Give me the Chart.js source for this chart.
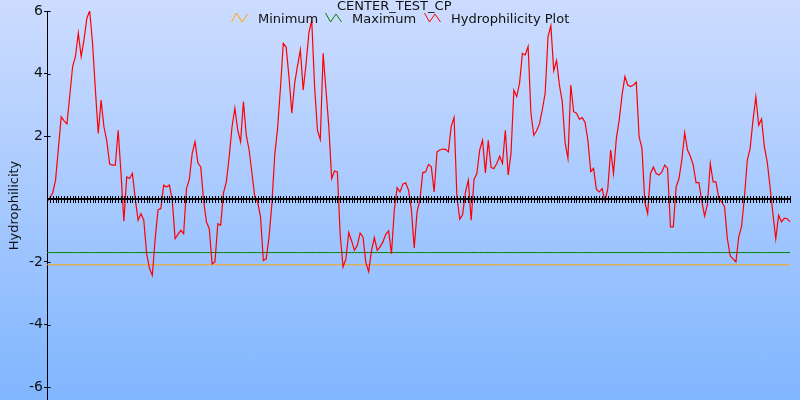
<!DOCTYPE html>
<html>
<head>
<meta charset="utf-8">
<script src="https://cdn.jsdelivr.net/npm/chart.js@4.4.0/dist/chart.umd.min.js"></script>
<style>
    body { margin: 0; }
    #wrap {
        position: relative;
        width: 800px;
        height: 400px;
        background: linear-gradient(#cddcff, #80b6ff);
        font-family: "DejaVu Sans", sans-serif;
        font-size: 13px;
        line-height: 15px;
        color: #111;
        overflow: hidden;
    }
    #wrap canvas { position: absolute; left: 0; top: 0; }
    .txt { position: absolute; white-space: nowrap; }
    .icon { position: absolute; }
</style>
</head>
<body>
<div id="wrap">
    <canvas id="hydroChart" width="800" height="400"></canvas>
    <div class="txt" id="chart-title" style="left:337px; top:-2px;">CENTER_TEST_CP</div>
    <svg class="icon" style="left:231px; top:12px;" width="18" height="11"><polyline points="0.5,10 5.5,1 11,10 16.5,2" fill="none" stroke="#ffa500" stroke-width="1"/></svg>
    <div class="txt" style="left:258px; top:11px;">Minimum</div>
    <svg class="icon" style="left:325px; top:12px;" width="18" height="11"><polyline points="0.5,1 5.5,10 11,2 16.5,10" fill="none" stroke="#008000" stroke-width="1"/></svg>
    <div class="txt" style="left:352px; top:11px;">Maximum</div>
    <svg class="icon" style="left:424px; top:12px;" width="18" height="11"><polyline points="0.5,1 5.5,10 11,2 16.5,10" fill="none" stroke="#ff0000" stroke-width="1"/></svg>
    <div class="txt" style="left:451px; top:11px;">Hydrophilicity&nbsp;Plot</div>
</div>
<script>
// 잔기별 친수성 값
const hydrophilicity = [
    -0.09, 0.05, 0.2, 0.6, 1.62, 2.63, 2.5, 2.4, 3.3, 4.23,
    4.55, 5.3, 4.55, 5.08, 5.77, 6.0, 4.97, 3.48, 2.1, 3.16,
    2.31, 1.86, 1.12, 1.09, 1.09, 2.2, 0.82, -0.7, 0.71, 0.66,
    0.82, 0.02, -0.67, -0.46, -0.67, -1.74, -2.2, -2.43, -1.26, -0.33,
    -0.3, 0.45, 0.39, 0.45,
    -0.03, -1.26, -1.12, -0.99, -1.1, 0.34, 0.63, 1.46, 1.83, 1.16,
    1.03, -0.03, -0.72, -0.94, -2.06, -2.0, -0.78, -0.83, 0.2, 0.55,
    1.35, 2.31, 2.9, 2.2, 1.83, 3.11, 2.04, 1.57, 0.82, 0.07,
    -0.09, -0.56, -1.95, -1.9, -1.2, -0.14, 1.41, 2.26, 3.54, 4.97,
    4.85, 3.9, 2.74,
    3.7, 4.25, 4.76, 3.48, 4.31, 5.31, 5.7, 3.59, 2.2, 1.9,
    4.65, 3.48, 2.31, 0.66, 0.9, 0.87, -1.15, -2.16, -1.9, -1.06,
    -1.33, -1.63, -1.47, -1.08, -1.2, -2.02, -2.31, -1.63, -1.22, -1.63,
    -1.52, -1.36, -1.12, -1.01, -1.74, -0.35, 0.37, 0.23, 0.48, 0.52,
    0.29, -0.33,
    -1.55, -0.4, -0.01, 0.85, 0.87, 1.11, 1.03, 0.23, 1.51, 1.57,
    1.6, 1.59, 1.51, 2.33, 2.6, 0.07, -0.64, -0.49, 0.23, 0.61,
    -0.67, 0.63, 0.82, 1.57, 1.88, 0.84, 1.88, 1.01, 0.98, 1.14,
    1.37, 1.14, 2.2, 0.77, 1.46, 3.48, 3.27, 3.7, 4.65, 4.6,
    4.87, 2.74, 2.04,
    2.18, 2.4, 2.86, 3.38, 5.19, 5.53, 4.1, 4.42, 3.64, 3.11,
    1.8, 1.3, 3.64, 2.79, 2.74, 2.55, 2.6, 2.45, 1.88, 0.88,
    0.98, 0.31, 0.23, 0.34, -0.05, 0.34, 1.57, 0.82, 1.94, 2.52,
    3.32, 3.91, 3.64, 3.59, 3.64, 3.73, 1.99, 1.62, -0.09, -0.46,
    0.82, 1.03, 0.82,
    0.77, 0.87, 1.09, 0.98, -0.88, -0.88, 0.39, 0.66, 1.25, 2.12,
    1.57, 1.37, 1.09, 0.53, 0.53, -0.05, -0.54, -0.16, 1.14, 0.55,
    0.55, 0.02, -0.09, -0.24, -1.26, -1.81, -1.9, -2.0, -1.2, -0.86,
    0.07, 1.25, 1.62, 2.52, 3.27, 2.36, 2.56, 1.67, 1.19, 0.39,
    -0.46, -1.26, -0.51, -0.72, -0.6, -0.62, -0.72
];
const positions = hydrophilicity.map((_, i) => i + 1);

const minimumValue = -2.09;
const maximumValue = -1.70;
const minimumLine = positions.map(() => minimumValue);
const maximumLine = positions.map(() => maximumValue);

const yTickValues = [-6, -4, -2, 2, 4, 6];

// x축(0 위치)과 y축 눈금을 십자 모양으로 그림
const crossAxes = {
    id: 'crossAxes',
    afterDatasetsDraw(chart) {
        const { ctx } = chart;
        const x = chart.scales.x;
        const y = chart.scales.y;
        const y0 = Math.round(y.getPixelForValue(0));
        ctx.save();
        ctx.strokeStyle = '#000';
        ctx.lineWidth = 2;
        ctx.beginPath();
        ctx.moveTo(x.getPixelForValue(0), y0);
        ctx.lineTo(x.getPixelForValue(positions.length - 1), y0);
        ctx.stroke();
        ctx.lineWidth = 1;
        ctx.beginPath();
        positions.forEach((_, i) => {
            const px = Math.round(x.getPixelForValue(i)) + 0.5;
            ctx.moveTo(px, y0 - 3);
            ctx.lineTo(px, y0 + 4);
        });
        const left = Math.round(y.left + y.width) + 0.5;
        yTickValues.forEach(v => {
            const py = Math.round(y.getPixelForValue(v)) + 0.5;
            ctx.moveTo(left, py);
            ctx.lineTo(left + 3, py);
        });
        ctx.stroke();
        ctx.restore();
    }
};

new Chart(document.getElementById('hydroChart'), {
    type: 'line',
    data: {
        labels: positions,
        datasets: [
            { label: 'Minimum', data: minimumLine, borderColor: '#ffa500', borderWidth: 1, pointRadius: 0, order: 2 },
            { label: 'Maximum', data: maximumLine, borderColor: '#008000', borderWidth: 1, pointRadius: 0, order: 1 },
            { label: 'Hydrophilicity Plot', data: hydrophilicity, borderColor: '#ff0000', borderWidth: 1.2, pointRadius: 0, tension: 0, order: 0 }
        ]
    },
    options: {
        responsive: false,
        animation: false,
        layout: { padding: { top: 11, right: 10, bottom: 0, left: 0 } },
        plugins: { legend: { display: false }, title: { display: false }, tooltip: { enabled: false } },
        scales: {
            x: { display: false, offset: false },
            y: {
                min: -6.4,
                max: 6,
                afterBuildTicks: scale => { scale.ticks = yTickValues.map(v => ({ value: v })); },
                afterFit: scale => {
                    scale.width = 47;
                    scale.paddingTop = 0;
                    scale.paddingBottom = 0;
                },
                grid: { drawOnChartArea: false, tickLength: 3, color: '#000' },
                border: { color: '#000', width: 1 },
                ticks: { color: '#111', padding: 1, font: { family: 'DejaVu Sans', size: 14 } },
                title: { display: true, text: 'Hydrophilicity', color: '#111', padding: { top: 7, bottom: 0 }, font: { family: 'DejaVu Sans', size: 13 } }
            }
        }
    },
    plugins: [crossAxes]
});
</script>
</body>
</html>
